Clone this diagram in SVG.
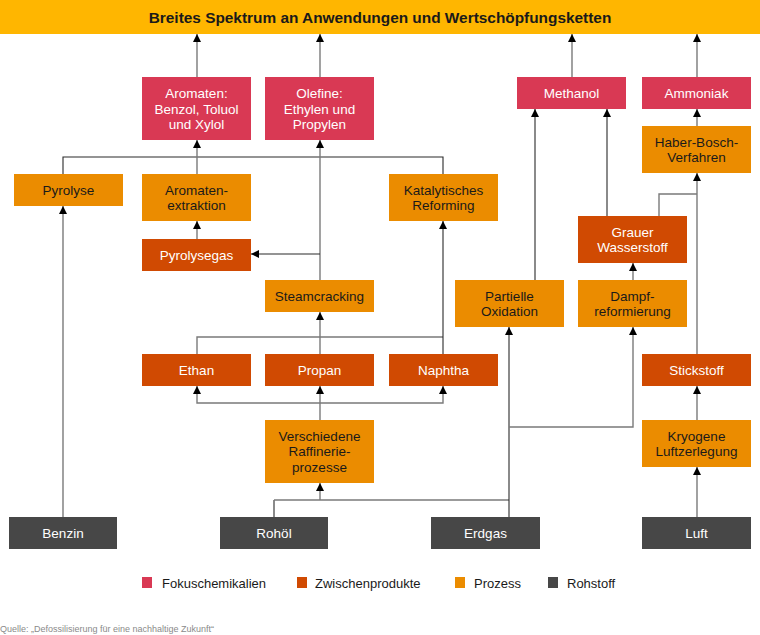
<svg xmlns="http://www.w3.org/2000/svg" width="760" height="635" viewBox="0 0 760 635">
<style>
text{font-family:"Liberation Sans",Arial,Helvetica,sans-serif;font-size:13.5px;text-anchor:middle}
.fc{fill:#D93954}
.zw{fill:#D04A02}
.pr{fill:#EB8C00}
.rs{fill:#474747}
.w{fill:#ffffff}
.k{fill:#1a1a1a}
.ln{fill:none;stroke:#7a7a7a;stroke-width:1.4}
.lk{fill:none;stroke:#2a2a2a;stroke-width:1.1}
.a{marker-end:url(#ah)}
.lg{font-size:13px;text-anchor:start;fill:#1a1a1a}
</style>
<defs>
<marker id="ah" viewBox="0 0 8 8" refX="8" refY="4" markerWidth="8" markerHeight="8" markerUnits="userSpaceOnUse" orient="auto">
<path d="M0,0 L8,4 L0,8 z" fill="#000"/>
</marker>
</defs>
<rect width="760" height="635" fill="#fff"/>
<g id="title">
<rect x="0" y="0" width="760" height="34" fill="#FFB600"/>
<text x="380" y="22.5" style="font-weight:bold;font-size:15.4px" class="k">Breites Spektrum an Anwendungen und Wertschöpfungsketten</text>
</g>
<g id="connectors">
<path class="ln a" d="M197,77 V34"/>
<path class="ln a" d="M320,77 V34"/>
<path class="ln a" d="M572,77 V34"/>
<path class="ln a" d="M697,77 V34"/>
<path class="ln a" d="M697,126 V109"/>
<path class="lk" d="M63,174 V157 H443 V174"/>
<path class="ln a" d="M197,174 V140"/>
<path class="ln a" d="M320,280 V140"/>
<path class="lk a" d="M320,254 H251"/>
<path class="ln a" d="M197,239 V221"/>
<path class="ln" d="M197,354 V337 H443"/>
<path class="ln a" d="M320,354 V312"/>
<path class="lk a" d="M443,354 V221"/>
<path class="ln a" d="M320,420 V386"/>
<path class="ln a" d="M320,403 H197 V386"/>
<path class="ln a" d="M320,403 H443 V386"/>
<path class="lk" d="M274,517 V500"/>
<path class="ln" d="M274,500 H509"/>
<path class="ln a" d="M320,500 V483"/>
<path class="lk a" d="M509,517 V327"/>
<path class="ln a" d="M509,427 H633 V327"/>
<path class="lk a" d="M535,280 V109"/>
<path class="ln a" d="M633,280 V263"/>
<path class="lk a" d="M607,216 V109"/>
<path class="ln" d="M659,216 V194 H697"/>
<path class="ln a" d="M697,354 V173"/>
<path class="ln a" d="M697,420 V386"/>
<path class="ln a" d="M697,517 V467"/>
<path class="ln a" d="M63,517 V206"/>
</g>
<g id="aromaten"><rect class="fc" x="142" y="77" width="109" height="63"/><text class="w" x="196.5" y="98">Aromaten:</text><text class="w" x="196.5" y="113.5">Benzol, Toluol</text><text class="w" x="196.5" y="129">und Xylol</text></g>
<g id="olefine"><rect class="fc" x="265" y="77" width="109" height="63"/><text class="w" x="319.5" y="98">Olefine:</text><text class="w" x="319.5" y="113.5">Ethylen und</text><text class="w" x="319.5" y="129">Propylen</text></g>
<g id="methanol"><rect class="fc" x="517" y="77" width="109" height="32"/><text class="w" x="571.5" y="97.8">Methanol</text></g>
<g id="ammoniak"><rect class="fc" x="642" y="77" width="109" height="32"/><text class="w" x="696.5" y="97.8">Ammoniak</text></g>
<g id="haberbosch"><rect class="pr" x="642" y="126" width="109" height="47"/><text class="k" x="696.5" y="146.5">Haber-Bosch-</text><text class="k" x="696.5" y="162">Verfahren</text></g>
<g id="pyrolyse"><rect class="pr" x="14" y="174" width="109" height="32"/><text class="k" x="68.5" y="194.8">Pyrolyse</text></g>
<g id="aromatenextraktion"><rect class="pr" x="142" y="174" width="109" height="47"/><text class="k" x="196.5" y="194.5">Aromaten-</text><text class="k" x="196.5" y="210">extraktion</text></g>
<g id="katalytisches-reforming"><rect class="pr" x="389" y="174" width="109" height="47"/><text class="k" x="443.5" y="194.5">Katalytisches</text><text class="k" x="443.5" y="210">Reforming</text></g>
<g id="pyrolysegas"><rect class="zw" x="142" y="239" width="109" height="32"/><text class="w" x="196.5" y="259.8">Pyrolysegas</text></g>
<g id="grauer-wasserstoff"><rect class="zw" x="578" y="216" width="109" height="47"/><text class="w" x="632.5" y="236.5">Grauer</text><text class="w" x="632.5" y="252">Wasserstoff</text></g>
<g id="steamcracking"><rect class="pr" x="265" y="280" width="109" height="32"/><text class="k" x="319.5" y="300.8">Steamcracking</text></g>
<g id="partielle-oxidation"><rect class="pr" x="455" y="280" width="109" height="47"/><text class="k" x="509.5" y="300.5">Partielle</text><text class="k" x="509.5" y="316">Oxidation</text></g>
<g id="dampfreformierung"><rect class="pr" x="578" y="280" width="109" height="47"/><text class="k" x="632.5" y="300.5">Dampf-</text><text class="k" x="632.5" y="316">reformierung</text></g>
<g id="ethan"><rect class="zw" x="142" y="354" width="109" height="32"/><text class="w" x="196.5" y="374.8">Ethan</text></g>
<g id="propan"><rect class="zw" x="265" y="354" width="109" height="32"/><text class="w" x="319.5" y="374.8">Propan</text></g>
<g id="naphtha"><rect class="zw" x="389" y="354" width="109" height="32"/><text class="w" x="443.5" y="374.8">Naphtha</text></g>
<g id="stickstoff"><rect class="zw" x="642" y="354" width="109" height="32"/><text class="w" x="696.5" y="374.8">Stickstoff</text></g>
<g id="raffinerieprozesse"><rect class="pr" x="265" y="420" width="109" height="63"/><text class="k" x="319.5" y="440.5">Verschiedene</text><text class="k" x="319.5" y="456">Raffinerie-</text><text class="k" x="319.5" y="471.5">prozesse</text></g>
<g id="kryogene-luftzerlegung"><rect class="pr" x="642" y="420" width="109" height="47"/><text class="k" x="696.5" y="440.5">Kryogene</text><text class="k" x="696.5" y="456">Luftzerlegung</text></g>
<g id="benzin"><rect class="rs" x="9" y="517" width="108" height="32"/><text class="w" x="63" y="537.8">Benzin</text></g>
<g id="rohoel"><rect class="rs" x="220" y="517" width="108" height="32"/><text class="w" x="274" y="537.8">Rohöl</text></g>
<g id="erdgas"><rect class="rs" x="431" y="517" width="109" height="32"/><text class="w" x="485.5" y="537.8">Erdgas</text></g>
<g id="luft"><rect class="rs" x="642" y="517" width="109" height="32"/><text class="w" x="696.5" y="537.8">Luft</text></g>
<g id="legend">
<rect class="fc" x="142" y="577" width="10" height="11"/><text class="lg" x="162" y="587.5">Fokuschemikalien</text>
<rect class="zw" x="297" y="577" width="10" height="11"/><text class="lg" x="315" y="587.5">Zwischenprodukte</text>
<rect class="pr" x="455" y="577" width="10" height="11"/><text class="lg" x="474" y="587.5">Prozess</text>
<rect class="rs" x="548" y="577" width="10" height="11"/><text class="lg" x="567" y="587.5">Rohstoff</text>
</g>
<text x="0" y="632" style="font-size:9px;text-anchor:start;fill:#8a8a8a">Quelle: „Defossilisierung für eine nachhaltige Zukunft“</text>
</svg>
